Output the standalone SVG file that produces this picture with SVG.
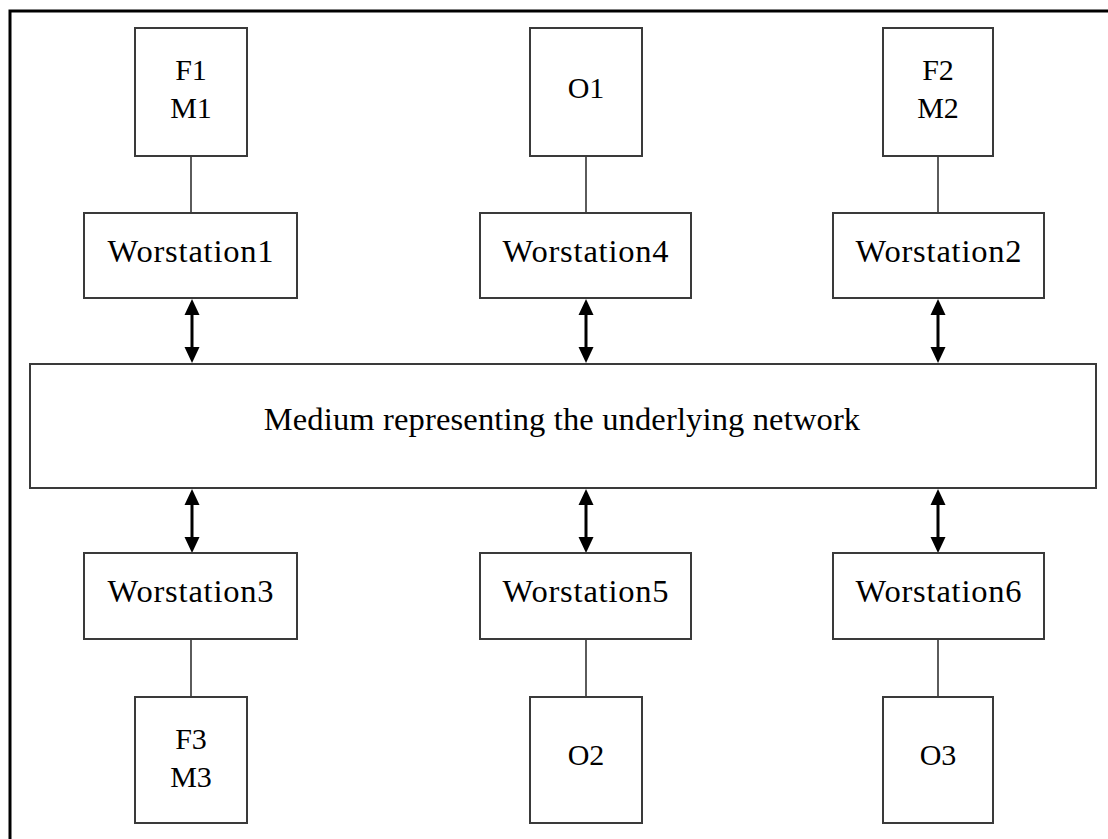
<svg xmlns="http://www.w3.org/2000/svg" width="1108" height="839" viewBox="0 0 1108 839">
<style>
.box{fill:#fff;stroke:#3a3a3a;stroke-width:2}
.t{font-family:"Liberation Serif","Times New Roman",serif;fill:#000;text-anchor:middle}
.s{font-size:30px}
.w{font-size:32.5px}
.ws{letter-spacing:0.8px}
.ln{stroke:#333;stroke-width:1.6;fill:none}
.ar{stroke:#000;stroke-width:3;fill:none;marker-start:url(#ah);marker-end:url(#ah)}
</style>
<defs>
<marker id="ah" viewBox="0 0 16 16" refX="6" refY="8" markerWidth="16" markerHeight="16" markerUnits="userSpaceOnUse" orient="auto-start-reverse">
<path d="M0,0.5 L16,8 L0,15.5 z" fill="#000"/>
</marker>
</defs>
<rect x="0" y="0" width="1108" height="839" fill="#fff"/>
<path d="M10,845 V11 H1115" fill="none" stroke="#000" stroke-width="3"/>
<g id="connectors">
<line class="ln" x1="191" y1="156" x2="191" y2="213"/>
<line class="ln" x1="586" y1="156" x2="586" y2="213"/>
<line class="ln" x1="938" y1="156" x2="938" y2="213"/>
<line class="ln" x1="191" y1="639" x2="191" y2="697"/>
<line class="ln" x1="586" y1="639" x2="586" y2="697"/>
<line class="ln" x1="938" y1="639" x2="938" y2="697"/>
<line class="ar" x1="192" y1="309" x2="192" y2="353"/>
<line class="ar" x1="586" y1="309" x2="586" y2="353"/>
<line class="ar" x1="938" y1="309" x2="938" y2="353"/>
<line class="ar" x1="192" y1="499" x2="192" y2="543"/>
<line class="ar" x1="586" y1="499" x2="586" y2="543"/>
<line class="ar" x1="938" y1="499" x2="938" y2="543"/>
</g>
<g id="f1m1"><rect class="box" x="135" y="28" width="112" height="128"/><text class="t s" x="191" y="80">F1</text><text class="t s" x="191" y="118">M1</text></g>
<g id="o1"><rect class="box" x="530" y="28" width="112" height="128"/><text class="t s" x="586" y="98">O1</text></g>
<g id="f2m2"><rect class="box" x="883" y="28" width="110" height="128"/><text class="t s" x="938" y="80">F2</text><text class="t s" x="938" y="118">M2</text></g>
<g id="ws1"><rect class="box" x="84" y="213" width="213" height="85"/><text class="t w ws" x="191" y="262">Worstation1</text></g>
<g id="ws4"><rect class="box" x="480" y="213" width="211" height="85"/><text class="t w ws" x="586" y="262">Worstation4</text></g>
<g id="ws2"><rect class="box" x="833" y="213" width="211" height="85"/><text class="t w ws" x="939" y="262">Worstation2</text></g>
<g id="medium"><rect class="box" x="30" y="364" width="1066" height="124"/><text class="t w" x="562" y="430" letter-spacing="0.15">Medium representing the underlying network</text></g>
<g id="ws3"><rect class="box" x="84" y="553" width="213" height="86"/><text class="t w ws" x="191" y="602">Worstation3</text></g>
<g id="ws5"><rect class="box" x="480" y="553" width="211" height="86"/><text class="t w ws" x="586" y="602">Worstation5</text></g>
<g id="ws6"><rect class="box" x="833" y="553" width="211" height="86"/><text class="t w ws" x="939" y="602">Worstation6</text></g>
<g id="f3m3"><rect class="box" x="135" y="697" width="112" height="126"/><text class="t s" x="191" y="749">F3</text><text class="t s" x="191" y="787">M3</text></g>
<g id="o2"><rect class="box" x="530" y="697" width="112" height="126"/><text class="t s" x="586" y="765">O2</text></g>
<g id="o3"><rect class="box" x="883" y="697" width="110" height="126"/><text class="t s" x="938" y="765">O3</text></g>
</svg>
